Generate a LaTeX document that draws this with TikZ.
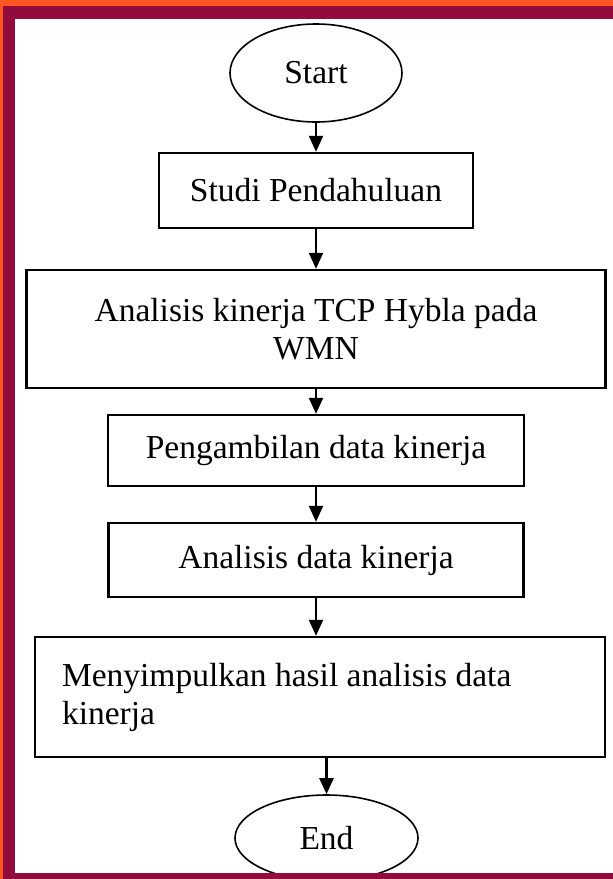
\documentclass[tikz,border=0pt]{standalone}
\usepackage{fontspec}
\setmainfont{Liberation Serif}
\usepackage{tikz}
\usetikzlibrary{arrows.meta,positioning,shapes.geometric}
\definecolor{frameorange}{RGB}{255,87,34}
\definecolor{framered}{RGB}{147,10,60}

\begin{document}
\begin{tikzpicture}[x=1pt, y=-1pt,
  every node/.style={font=\fontsize{33.5}{38}\selectfont, inner sep=0pt},
  terminal/.style={ellipse, draw, line width=1.6pt},
  process/.style={rectangle, draw, line width=2.4pt, align=center},
  flow/.style={-{Triangle[length=16pt,width=14pt]}, line width=2.2pt}]
\useasboundingbox (0,0) rectangle (613,879);
% Frame
\fill[frameorange] (0,0) rectangle (613,879);
\fill[framered] (3,6) rectangle (613,879);
\fill[white] (15,19) rectangle (613,873);
% Steps
\node[terminal, minimum width=172pt, minimum height=98pt] (start) at (316,73) {Start};
\node[process, minimum width=314pt, minimum height=75pt] (studi) at (316,190.5) {Studi Pendahuluan};
\node[process, minimum width=579pt, minimum height=118pt] (tcp) at (316,329) {Analisis kinerja TCP Hybla pada\\WMN};
\node[process, minimum width=416pt, minimum height=71pt] (ambil) at (316,450.5) {Pengambilan data kinerja};
\node[process, minimum width=415pt, minimum height=74pt] (analisis) at (316,560) {Analisis data kinerja};
\node[process, minimum width=570pt, minimum height=120pt, text width=516pt, align=flush left] (simpul) at (320,697) {Menyimpulkan hasil analisis data\\kinerja};
\node[terminal, minimum width=183pt, minimum height=86pt] (end) at (326.5,838) {End};
% Arrows
\draw[flow] (start) -- (studi);
\draw[flow] (studi) -- (tcp);
\draw[flow] (tcp) -- (ambil);
\draw[flow] (ambil) -- (analisis);
\draw[flow] (analisis) -- (analisis |- simpul.north);
\draw[flow] (simpul.south -| end) -- (end);
% Bottom edge over the end ellipse
\fill[framered] (3,873) rectangle (613,879);
\end{tikzpicture}
\end{document}
